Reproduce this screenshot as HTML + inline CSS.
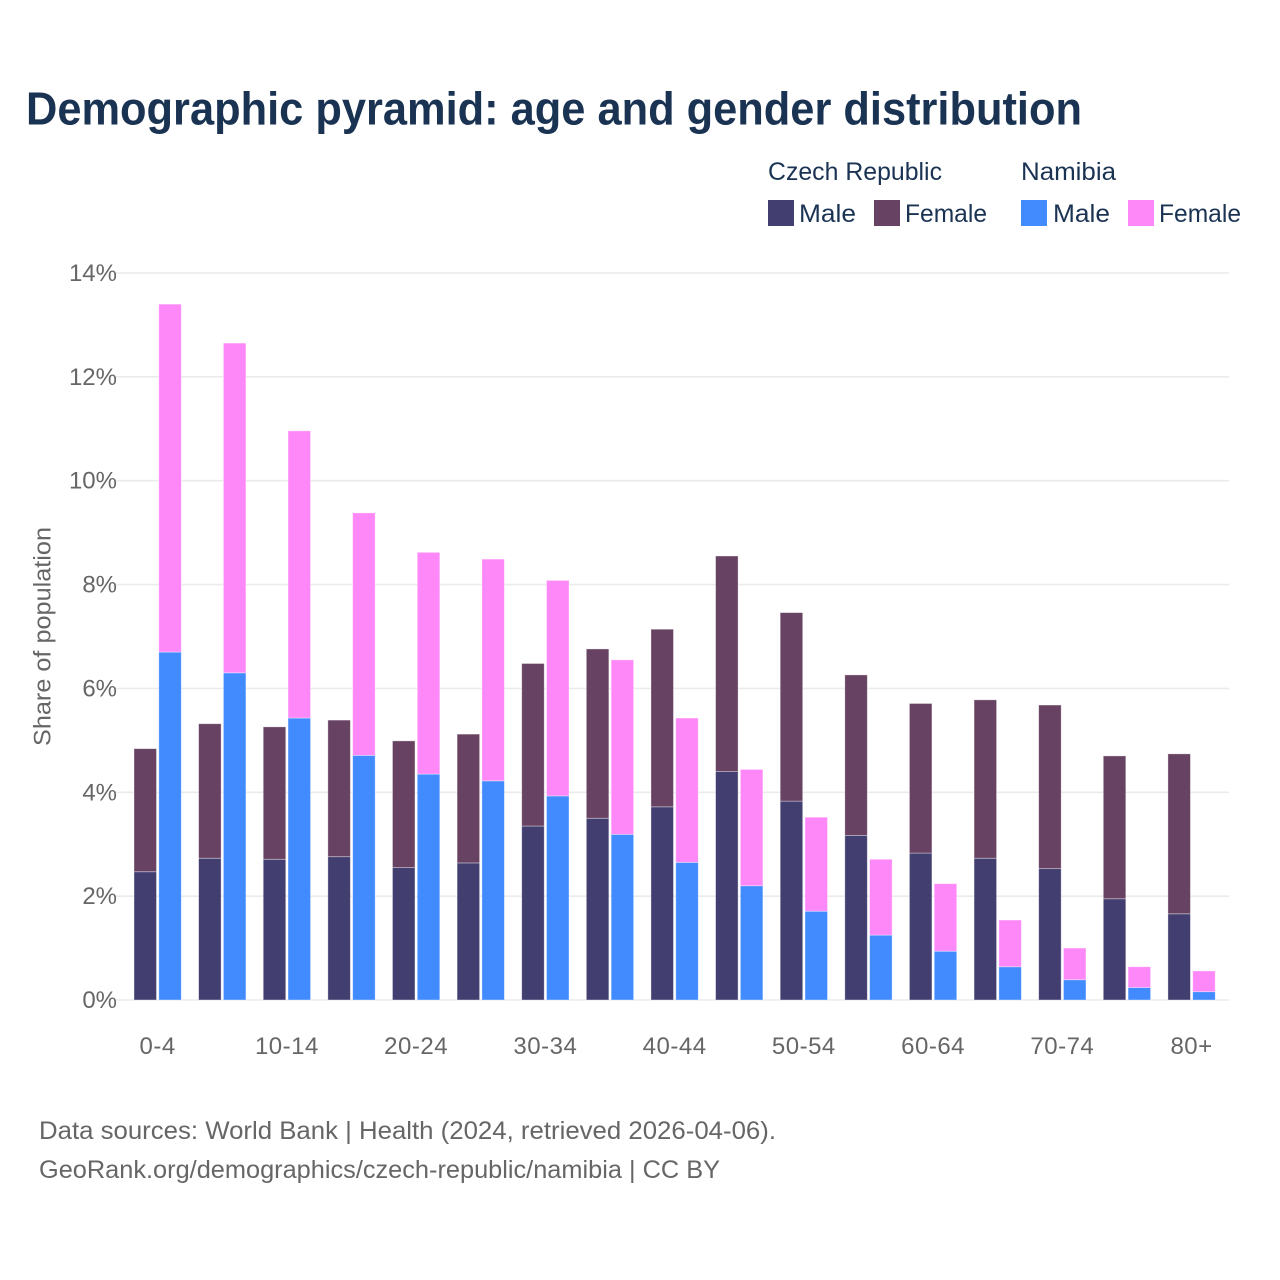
<!DOCTYPE html>
<html lang="en">
<head>
<meta charset="utf-8">
<title>Demographic pyramid</title>
<style>
html,body{margin:0;padding:0;background:#fff;width:1280px;height:1280px;overflow:hidden}
svg{display:block;font-family:"Liberation Sans",sans-serif}
</style>
</head>
<body>
<svg id="chart" width="1280" height="1280" viewBox="0 0 1280 1280" xmlns="http://www.w3.org/2000/svg">
  <rect width="1280" height="1280" fill="#ffffff"/>
  <text x="26" y="124.5" font-size="46" font-weight="700" fill="#1a3353" textLength="1056" lengthAdjust="spacingAndGlyphs">Demographic pyramid: age and gender distribution</text>

  <g id="grid"></g>
  <g id="yticks"></g>
  <g id="bars"></g>
  <g id="xticks"></g>

  <text transform="translate(50.5,746) rotate(-90)" font-size="24" fill="#666666" textLength="219" lengthAdjust="spacingAndGlyphs">Share of population</text>

  <g font-size="25" fill="#1a3353">
    <text x="768" y="180" textLength="174" lengthAdjust="spacingAndGlyphs">Czech Republic</text>
    <text x="1021" y="180" textLength="95" lengthAdjust="spacingAndGlyphs">Namibia</text>
    <rect x="768" y="200" width="26" height="26" fill="#423f70"/>
    <text x="799" y="222" textLength="57" lengthAdjust="spacingAndGlyphs">Male</text>
    <rect x="874" y="200" width="26" height="26" fill="#674262"/>
    <text x="905" y="222" textLength="82" lengthAdjust="spacingAndGlyphs">Female</text>
    <rect x="1021" y="200" width="26" height="26" fill="#418bff"/>
    <text x="1053" y="222" textLength="57" lengthAdjust="spacingAndGlyphs">Male</text>
    <rect x="1128" y="200" width="26" height="26" fill="#ff88f9"/>
    <text x="1159" y="222" textLength="82" lengthAdjust="spacingAndGlyphs">Female</text>
  </g>

  <g font-size="25" fill="#666666">
    <text x="39" y="1139" textLength="737" lengthAdjust="spacingAndGlyphs">Data sources: World Bank | Health (2024, retrieved 2026-04-06).</text>
    <text x="39" y="1178" textLength="681" lengthAdjust="spacingAndGlyphs">GeoRank.org/demographics/czech-republic/namibia | CC BY</text>
  </g>
</svg>
<script>
const ageGroups = ["0-4","5-9","10-14","15-19","20-24","25-29","30-34","35-39","40-44","45-49","50-54","55-59","60-64","65-69","70-74","75-79","80+"];
const visibleAgeLabels = ["0-4","10-14","20-24","30-34","40-44","50-54","60-64","70-74","80+"];
const czechMale = [2.47,2.73,2.71,2.76,2.55,2.64,3.35,3.50,3.72,4.40,3.83,3.17,2.83,2.73,2.53,1.95,1.66];
const czechFemale = [2.37,2.59,2.55,2.63,2.44,2.48,3.13,3.26,3.42,4.15,3.63,3.09,2.88,3.05,3.15,2.75,3.08];
const namibiaMale = [6.70,6.30,5.43,4.71,4.35,4.22,3.93,3.19,2.65,2.20,1.71,1.25,0.94,0.64,0.39,0.24,0.16];
const namibiaFemale = [6.70,6.35,5.53,4.67,4.27,4.27,4.15,3.36,2.78,2.24,1.81,1.46,1.30,0.90,0.61,0.40,0.40];
const yTickValues = [0,2,4,6,8,10,12,14];
const yTickLabels = ["0%","2%","4%","6%","8%","10%","12%","14%"];

const NS = "http://www.w3.org/2000/svg";
const yScale = v => 1000 - v * 51.93;
const groupLeft = i => 134 + i * 64.62;
const BAR_W = 22.5;
const BAR_OFFSET = 24.8;

function makeRect(parent, x, y, w, h, fill) {
  const r = document.createElementNS(NS, "rect");
  r.setAttribute("x", x.toFixed(2));
  r.setAttribute("y", y.toFixed(2));
  r.setAttribute("width", w.toFixed(2));
  r.setAttribute("height", Math.max(h, 0).toFixed(2));
  r.setAttribute("fill", fill);
  r.setAttribute("stroke", "#ffffff");
  r.setAttribute("stroke-opacity", "0.45");
  r.setAttribute("stroke-width", "0.8");
  parent.appendChild(r);
  return r;
}

const grid = document.getElementById("grid");
const yticks = document.getElementById("yticks");
yTickValues.forEach((v, i) => {
  const y = yScale(v);
  const line = document.createElementNS(NS, "line");
  
  
  line.setAttribute("x1", 116);
  line.setAttribute("x2", 1229);
  line.setAttribute("y1", y);
  line.setAttribute("y2", y);
  line.setAttribute("stroke", "#ebebeb");
  line.setAttribute("stroke-width", "1.6");
  grid.appendChild(line);
  const t = document.createElementNS(NS, "text");
  
  
  t.setAttribute("x", 117);
  t.setAttribute("y", y + 8);
  t.setAttribute("text-anchor", "end");
  t.setAttribute("font-size", "24");
  t.setAttribute("fill", "#666666");
  t.textContent = yTickLabels[i];
  yticks.appendChild(t);
});

const bars = document.getElementById("bars");
ageGroups.forEach((age, i) => {
  const x0 = groupLeft(i);
  const x1 = x0 + BAR_OFFSET;

  const yCM = yScale(czechMale[i]);
  const yCT = yScale(czechMale[i] + czechFemale[i]);
  const yNM = yScale(namibiaMale[i]);
  const yNT = yScale(namibiaMale[i] + namibiaFemale[i]);

  const b1 = makeRect(bars, x0, yCM, BAR_W, yScale(0) - yCM, "#423f70");
  
  
  const b2 = makeRect(bars, x0, yCT, BAR_W, yCM - yCT, "#674262");
  
  
  const b3 = makeRect(bars, x1, yNM, BAR_W, yScale(0) - yNM, "#418bff");
  
  
  const b4 = makeRect(bars, x1, yNT, BAR_W, yNM - yNT, "#ff88f9");
  
  
});

const xticks = document.getElementById("xticks");
ageGroups.forEach((age, i) => {
  if (!visibleAgeLabels.includes(age)) return;
  const t = document.createElementNS(NS, "text");
  
  
  t.setAttribute("x", (groupLeft(i) + (BAR_OFFSET + BAR_W) / 2).toFixed(2));
  t.setAttribute("y", 1054);
  t.setAttribute("text-anchor", "middle");
  t.setAttribute("font-size", "24");
  t.setAttribute("letter-spacing", "0.5");
  t.setAttribute("fill", "#666666");
  t.textContent = age;
  xticks.appendChild(t);
});
</script>
</body>
</html>
